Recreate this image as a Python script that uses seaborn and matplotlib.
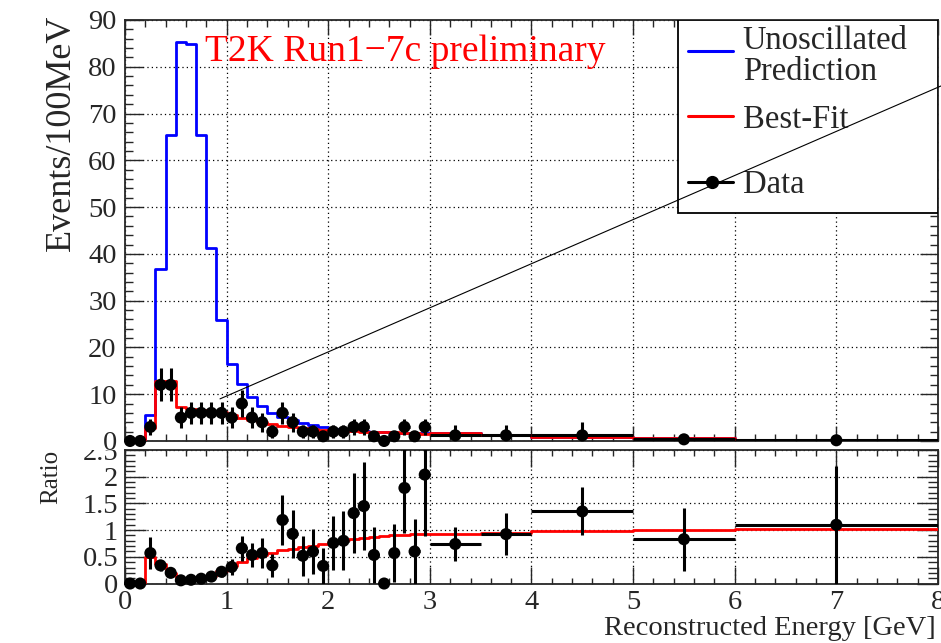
import numpy as np
import pandas as pd
import matplotlib
matplotlib.use('Agg')
import matplotlib.pyplot as plt
from matplotlib import ticker as mticker
from matplotlib.patches import Rectangle
from matplotlib.lines import Line2D
import seaborn as sns

# bin edges [GeV]: 100 MeV bins up to 3 GeV, then wider ones
bin_edges = [0.0, 0.1, 0.2, 0.3, 0.4, 0.5, 0.6, 0.7, 0.8, 0.9, 1.0,
             1.1, 1.2, 1.3, 1.4, 1.5, 1.6, 1.7, 1.8, 1.9, 2.0,
             2.1, 2.2, 2.3, 2.4, 2.5, 2.6, 2.7, 2.8, 2.9, 3.0,
             3.5, 4.0, 5.0, 6.0, 8.0]

# events / 100 MeV
unosc = [0, 0, 5.5, 36.7, 65.4, 85.4, 84.8, 65.4, 41.2, 25.8,
         16.5, 12.2, 9.5, 7.5, 6.0, 5.1, 4.4, 3.9, 3.4, 3.0,
         2.65, 2.45, 2.3, 2.15, 2.0, 1.9, 1.8, 1.75, 1.7, 1.65,
         1.74, 1.36, 0.95, 0.57, 0.2]
best_fit = [0, 0, 2.7, 12.8, 12.8, 7.3, 6.8, 6.6, 6.5, 6.3,
            5.6, 5.0, 4.5, 4.1, 3.6, 3.3, 3.0, 2.7, 2.5, 2.4,
            2.3, 2.2, 2.1, 2.0, 1.95, 1.9, 1.85, 1.8, 1.75, 1.55,
            1.6, 1.28, 0.92, 0.57, 0.2]
data_evts = [0, 0, 3, 12, 12, 5, 6, 6, 6, 6,
             5, 8, 5, 4, 2, 6, 4, 2, 2, 1,
             2, 2, 3, 3, 1, 0, 1, 3, 1, 3,
             1.2, 1.2, 1.2, 0.35, 0.15]
data_err = [0, 0, 1.7, 3.5, 3.5, 2.2, 2.4, 2.4, 2.4, 2.4,
            2.2, 2.8, 2.2, 2.0, 1.4, 2.4, 2.0, 1.4, 1.4, 1.0,
            1.4, 1.4, 1.7, 1.7, 1.0, 0.0, 1.0, 1.7, 1.0, 1.7,
            2.3, 2.3, 2.9, 0.6, 0.4]

# ratio to unoscillated prediction
ratio_data = [0, 0, 0.57, 0.34, 0.2, 0.06, 0.07, 0.09, 0.13, 0.22,
              0.31, 0.66, 0.535, 0.57, 0.34, 1.19, 0.93, 0.52, 0.6, 0.33,
              0.76, 0.8, 1.32, 1.45, 0.535, 0.0, 0.57, 1.79, 0.6, 2.04,
              0.74, 0.925, 1.35, 0.83, 1.10]
ratio_err = [0, 0, 0.3, 0.1, 0.06, 0.03, 0.03, 0.04, 0.05, 0.09,
             0.15, 0.23, 0.23, 0.28, 0.22, 0.47, 0.45, 0.37, 0.42, 0.33,
             0.5, 0.55, 0.75, 0.82, 0.52, 0.0, 0.55, 0.85, 0.6, 1.15,
             0.31, 0.4, 0.45, 0.59, 1.1]
ratio_fit = [0, 0, 0.49, 0.36, 0.2, 0.09, 0.08, 0.1, 0.15, 0.24,
             0.33, 0.41, 0.47, 0.53, 0.58, 0.62, 0.65, 0.68, 0.71, 0.74,
             0.78, 0.81, 0.84, 0.86, 0.88, 0.89, 0.9, 0.91, 0.92, 0.93,
             0.92, 0.94, 0.975, 1.0, 1.03]

edges = np.array(bin_edges)
centers = (edges[:-1] + edges[1:]) / 2
halfw = np.diff(edges) / 2

df = pd.DataFrame({'E': centers, 'unosc': unosc, 'fit': best_fit,
                   'data': data_evts, 'err': data_err,
                   'r_data': ratio_data, 'r_err': ratio_err, 'r_fit': ratio_fit})

sns.set_style('ticks')
plt.rcParams['font.family'] = ['Liberation Serif', 'DejaVu Serif']
plt.rcParams['axes.linewidth'] = 1.3

fig = plt.figure(figsize=(9.41, 6.43), dpi=100)
ax = fig.add_axes([0.1328, 0.3142, 0.864, 0.6547])
axr = fig.add_axes([0.1328, 0.0925, 0.864, 0.2076])
ax.set_zorder(2)

grid_kw = dict(color='black', linestyle=(0, (1, 2.5)), linewidth=0.9)

#%% top panel
sns.histplot(data=df, x='E', weights='unosc', bins=bin_edges, element='step',
             fill=False, color='#0000ff', linewidth=2.0, ax=ax, zorder=3)
sns.histplot(data=df, x='E', weights='fit', bins=bin_edges, element='step',
             fill=False, color='#ff0000', linewidth=2.0, ax=ax, zorder=4)
ax.errorbar(df['E'], df['data'], xerr=halfw, yerr=df['err'], fmt='none',
            ecolor='black', elinewidth=2.2, capsize=0, zorder=5)
sns.scatterplot(data=df, x='E', y='data', color='black', s=76, edgecolor='none',
                ax=ax, zorder=6, clip_on=False)

ax.set_xlim(0, 8)
ax.set_ylim(0, 90)
ax.xaxis.set_major_locator(mticker.MultipleLocator(1))
ax.xaxis.set_minor_locator(mticker.MultipleLocator(0.2))
ax.yaxis.set_major_locator(mticker.MultipleLocator(10))
ax.yaxis.set_minor_locator(mticker.MultipleLocator(2))
ax.tick_params(which='both', direction='in', top=True, right=True,
               labelbottom=False, labelsize=20.5, width=1.0, pad=6)
ax.tick_params(axis='x', which='major', length=11)
ax.tick_params(axis='x', which='minor', length=5)
ax.tick_params(axis='y', which='major', length=13)
ax.tick_params(axis='y', which='minor', length=6)
ax.set_axisbelow(True)
ax.grid(True, which='major', **grid_kw)
ax.set_xlabel('')
ax.set_ylabel('Events/100MeV', fontsize=26, loc='top')
ax.yaxis.set_label_coords(-0.058, 1.012)

ax.text(0.79, 81.2, 'T2K Run1\u22127c preliminary', color='red', fontsize=27,
        va='baseline', ha='left', zorder=7)

# legend box
ax.add_patch(Rectangle((0.680, 0.5416), 0.320, 0.4584, transform=ax.transAxes,
                       facecolor='white', edgecolor='black', lw=1.3, zorder=8))
ax.add_line(Line2D([0.6925, 0.748], [0.926, 0.926], transform=ax.transAxes,
                   color='#0000ff', lw=2.2, zorder=9))
ax.add_line(Line2D([0.6925, 0.748], [0.772, 0.772], transform=ax.transAxes,
                   color='#ff0000', lw=2.2, zorder=9))
ax.add_line(Line2D([0.6925, 0.748], [0.615, 0.615], transform=ax.transAxes,
                   color='black', lw=2.2, zorder=9))
ax.add_line(Line2D([0.7216], [0.615], transform=ax.transAxes, marker='o', ms=8.5,
                   color='black', lw=0, zorder=9))
leg_kw = dict(transform=ax.transAxes, fontsize=23.5, ha='left', va='center', zorder=9)
ax.text(0.760, 0.914, 'Unoscillated\nPrediction', linespacing=1.0, **leg_kw)
ax.text(0.760, 0.764, 'Best-Fit', **leg_kw)
ax.text(0.760, 0.609, 'Data', **leg_kw)

# stray line that sits in the original picture
ax.plot([0.935, 8.03], [9.0, 75.9], color='black', lw=0.8, clip_on=False, zorder=10)

# hide the upper half of the ratio "2.5" label, like the overlapping pad
ax.add_patch(Rectangle((0, 1 - 450 / 643), 122 / 941, 9 / 643, transform=fig.transFigure,
                       facecolor='white', edgecolor='none', clip_on=False, zorder=0.1))

#%% ratio panel
sns.histplot(data=df, x='E', weights='r_fit', bins=bin_edges, element='step',
             fill=False, color='#ff0000', linewidth=2.0, ax=axr, zorder=4)
r_lo = np.minimum(df['r_err'], df['r_data'])
axr.errorbar(df['E'], df['r_data'], xerr=halfw, yerr=[r_lo, df['r_err']], fmt='none',
             ecolor='black', elinewidth=2.2, capsize=0, zorder=5)
sns.scatterplot(data=df, x='E', y='r_data', color='black', s=76, edgecolor='none',
                ax=axr, zorder=6, clip_on=False)

axr.set_xlim(0, 8)
axr.set_ylim(0, 2.5)
axr.xaxis.set_major_locator(mticker.MultipleLocator(1))
axr.xaxis.set_minor_locator(mticker.MultipleLocator(0.2))
axr.yaxis.set_major_locator(mticker.MultipleLocator(0.5))
axr.yaxis.set_minor_locator(mticker.MultipleLocator(0.1))
axr.yaxis.set_major_formatter(mticker.FuncFormatter(lambda v, p: '%g' % v))
axr.tick_params(which='both', direction='in', top=True, right=True,
                labelsize=20.5, width=1.0, pad=5)
axr.tick_params(axis='x', which='major', length=12)
axr.tick_params(axis='x', which='minor', length=4)
axr.tick_params(axis='y', which='major', length=15)
axr.tick_params(axis='y', which='minor', length=7)
axr.set_axisbelow(True)
axr.grid(True, which='major', **grid_kw)
axr.set_ylabel('Ratio', fontsize=18, loc='top')
axr.yaxis.set_label_coords(-0.077, 1.0)
axr.set_xlabel('Reconstructed Energy [GeV]', fontsize=20.5, loc='right')
axr.xaxis.set_label_coords(0.997, -0.245)
axr.xaxis.label.set_va('top')

plt.savefig('out.png', dpi=100)
